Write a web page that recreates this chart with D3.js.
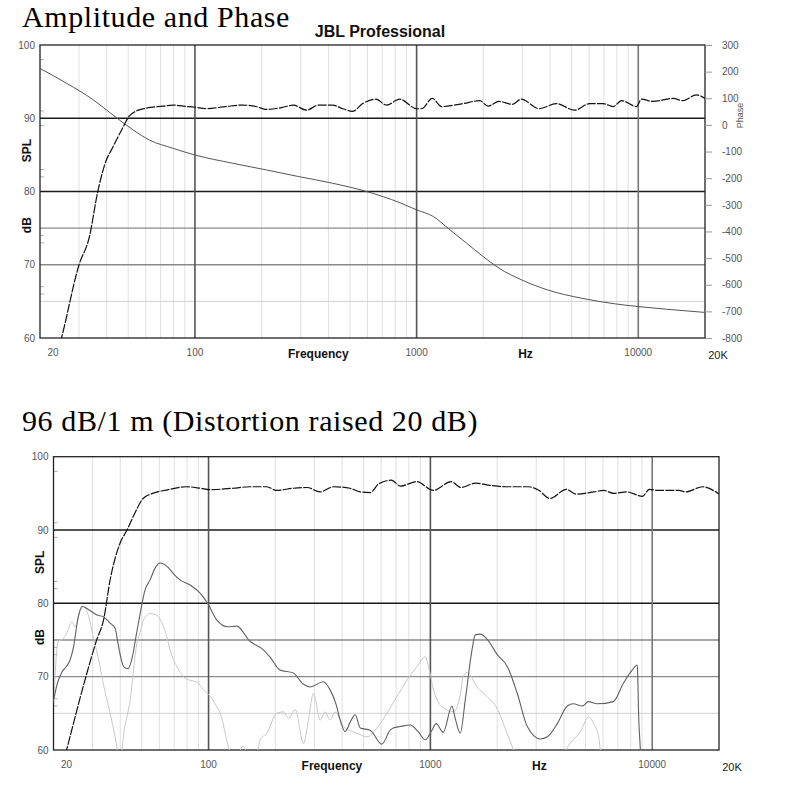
<!DOCTYPE html>
<html lang="en">
<head>
<meta charset="UTF-8">
<title>JBL Professional - Amplitude and Phase</title>
<script src="https://d3js.org/d3.v7.min.js"></script>
<style>
    body { margin: 0; background: #fff; }
    svg text { font-family: "Liberation Sans", Arial, sans-serif; }
    .title { font-family: "Liberation Serif", serif; font-size: 30px; letter-spacing: 0.6px; fill: #000; }
    .brand { font-size: 16px; font-weight: bold; fill: #111; }
    .tick-label { font-size: 10px; fill: #555; }
    .axis-title { font-size: 12px; font-weight: bold; fill: #111; }
</style>
</head>
<body>
<svg width="796" height="798"></svg>
<script>
    // frequency axis
    const freqTicks = [20, 100, 1000, 10000, 20000];
    const freqTickLabels = ["20", "100", "1000", "10000", "20K"];
    const minorFreqs = [30, 40, 50, 60, 70, 80, 90,
        200, 300, 400, 500, 600, 700, 800, 900,
        2000, 3000, 4000, 5000, 6000, 7000, 8000, 9000];
    const decadeFreqs = [100, 1000, 10000];

    // dB axis
    const dbTicks = [100, 90, 80, 70, 60];
    const dbMinorTicks = [98, 91, 89, 83, 82, 74, 73, 67, 66];
    const darkGrid = [90, 80];
    const midGrid = [75, 70];
    const lightGrid = [65];

    // phase axis
    const phaseTicks = [300, 200, 100, 0, -100, -200, -300, -400, -500, -600, -700, -800];

    // [Hz, dB] - amplitude response (top chart)
    const amplitude = [
        [24, 58], [25, 60], [30, 70], [33.4, 73.8], [36.4, 79.9], [39.3, 83.8], [42.7, 86.1],
        [46.7, 88.4], [50.9, 90.4], [58.4, 91.3], [71.8, 91.65], [79.8, 91.8], [88.5, 91.65],
        [100, 91.5], [112, 91.3], [138, 91.6], [164, 91.8], [189, 91.6], [210, 91.2], [250, 91.5],
        [278, 91.8], [318, 91.1], [362, 91.8], [418, 91.8], [464, 91.3], [515, 90.95], [571, 92.0],
        [656, 92.6], [731, 91.8], [840, 92.6], [1000, 91.3], [1054, 91.3], [1176, 92.7], [1300, 91.6],
        [1620, 92.0], [1925, 92.4], [2100, 91.65], [2355, 92.3], [2708, 91.9], [2960, 92.6],
        [3585, 91.3], [4260, 92.0], [5160, 91.1], [6030, 92.0], [6940, 92.0], [7710, 91.6],
        [8410, 92.4], [9820, 91.6], [10340, 92.6], [11660, 92.3], [14400, 92.7], [15900, 92.4],
        [18280, 93.2], [20000, 92.7]
    ];

    // [Hz, degrees] - phase response (top chart)
    const phase = [
        [20, 212], [26.4, 156], [34.8, 94], [42.7, 37], [52.6, -19], [62.4, -57], [79.8, -88],
        [100, -113], [148, -144], [210, -169], [294, -194], [418, -219], [594, -250], [840, -292],
        [1000, -319], [1190, -344], [1414, -394], [1680, -444], [1995, -494], [2355, -538],
        [2980, -582], [3880, -619], [5570, -651], [7890, -672], [10000, -682], [13400, -692],
        [20000, -704]
    ];

    // [Hz, dB] - 96 dB/1 m fundamental (bottom chart)
    const fundamental = [
        [22, 58], [22.9, 60], [27.7, 69.5], [31.3, 75], [33.6, 77.7], [36.0, 83.2], [39.9, 88.2],
        [42.9, 90.0], [45.7, 91.8], [50.7, 94.3], [56, 95.0], [64.5, 95.45], [79.5, 95.9],
        [91.8, 95.7], [101.6, 95.5], [129, 95.7], [154, 95.9], [183, 95.9], [202, 95.4], [241, 95.7],
        [278, 95.8], [318, 95.2], [366, 95.9], [434, 95.7], [482, 95.2], [535, 95.1], [585, 96.3],
        [667, 96.8], [733, 96.0], [869, 96.6], [1030, 95.4], [1240, 96.6], [1370, 95.8], [1600, 96.4],
        [1860, 96.1], [2200, 95.9], [2770, 95.9], [3070, 95.45], [3460, 94.3], [4100, 95.55],
        [4540, 94.9], [5470, 95.2], [6050, 95.4], [6700, 95.0], [7650, 95.2], [9060, 94.6],
        [9690, 95.55], [10700, 95.4], [13200, 95.4], [14100, 95.2], [16900, 95.9], [20000, 94.9]
    ];

    // [Hz, dB] - 2nd harmonic, raised 20 dB
    const harmonic2 = [
        [20.1, 67.0], [20.7, 68.8], [21.8, 70.6], [23.0, 71.5], [23.7, 72.2], [24.6, 74.0],
        [25.8, 78.0], [26.9, 79.6], [28.3, 79.3], [31.4, 78.4], [33.4, 78.2], [36.0, 77.3],
        [37.9, 76.6], [39.1, 74.5], [40.3, 72.5], [41.6, 71.3], [43.4, 71.1], [45.2, 72.5],
        [47.1, 75.5], [49.1, 78.5], [51.7, 81.8], [54.5, 83.2], [57.4, 84.8], [60.4, 85.5],
        [62.4, 85.4], [65.7, 84.9], [69.2, 84.1], [74.4, 83.2], [82.6, 82.5], [91.6, 81.4],
        [99.5, 79.9], [109, 77.7], [122, 76.8], [134, 76.9], [154, 74.8], [166, 74.2], [171, 74.0],
        [189, 72.7], [210, 70.9], [241, 70.5], [267, 69.0], [287, 68.6], [329, 69.3], [353, 68.2],
        [376, 66.2], [392, 64.1], [413, 62.5], [435, 63.8], [458, 64.8], [483, 63.0], [535, 62.7],
        [604, 60.8], [659, 62.7], [680, 63.0], [731, 63.2], [811, 63.4], [881, 62.5], [948, 61.4],
        [1016, 62.7], [1062, 63.6], [1143, 62.4], [1251, 66.0], [1294, 64.3], [1363, 62.3],
        [1436, 66.8], [1539, 73.6], [1593, 75.7], [1678, 75.8], [1804, 75.1], [2002, 73.0],
        [2222, 71.4], [2465, 67.7], [2735, 63.2], [3130, 61.5], [3366, 61.8], [3734, 63.6],
        [4143, 66.0], [4407, 66.3], [4841, 66.0], [5152, 66.6], [5657, 66.3], [6680, 66.6],
        [7412, 69.1], [8222, 71.1], [8544, 71.6], [8580, 71.1], [8690, 64.5], [8842, 60.0], [8900, 58]
    ];

    // [Hz, dB] - 3rd harmonic, raised 20 dB (null = gap)
    const harmonic3 = [
        [20.1, 66.5], [20.5, 72.0], [21.0, 74.8], [22.1, 75.2], [23.3, 76.4], [24.2, 77.5],
        [25.0, 76.8], [26.3, 78.9], [27.5, 79.5], [28.6, 78.5], [30.2, 75.5], [32.4, 71.4],
        [33.5, 69.1], [36.0, 65.0], [38.6, 60.5], [39.1, 59.5], [40.3, 59.5], [41.6, 62.5],
        [44.3, 66.8], [47.5, 74.5], [49.1, 76.0], [50.8, 77.7], [54.5, 78.6], [58.4, 78.4],
        [62.6, 76.8], [64.8, 75.5], [67.1, 73.6], [71.9, 71.4], [77.0, 70.0], [82.6, 69.5],
        [88.5, 69.3], [94.8, 68.2], [102, 67.3], [109, 65.9], [113, 65.0], [123, 60.4], [128, 59],
        [133, 59], [143, 60.5], [154, 59], [165, 59.5], [171, 61.4], [183, 62.3], [203, 65.0],
        [218, 65.2], [229, 64.3], [246, 65.5], [268, 60.9], [282, 64.1], [297, 67.7], [319, 64.1],
        [335, 65.2], [353, 64.1], [372, 65.2], [406, 63.2], [466, 62.3], [517, 61.8], [574, 63.0],
        [637, 65.0], [706, 67.3], [784, 69.5], [870, 71.4], [948, 72.7], [981, 71.4], [1033, 68.2],
        [1127, 65.9], [1272, 65.2], [1363, 67.5], [1406, 70.0], [1466, 70.6], [1622, 68.6],
        [1799, 67.3], [1996, 65.7], [2214, 62.3], [2371, 60.0], [2440, 59],
        [3000, null],
        [3932, 59], [4130, 60.3], [4742, 62.5], [5168, 64.5], [5444, 63.6], [5734, 61.8],
        [5838, 60.0], [5895, 59]
    ];

    const svg = d3.select("svg");

    svg.append("text").attr("class", "title").attr("x", 22).attr("y", 27).text("Amplitude and Phase");
    svg.append("text").attr("class", "brand").attr("x", 380).attr("y", 37)
        .attr("text-anchor", "middle").text("JBL Professional");
    svg.append("text").attr("class", "title").attr("x", 22).attr("y", 431)
        .text("96 dB/1 m (Distortion raised 20 dB)");

    function drawChart(id, box, splX) {
        const g = svg.append("g");
        const x = d3.scaleLog().domain([20, 20000]).range([box.left, box.right]);
        const y = d3.scaleLinear().domain([60, 100]).range([box.bottom, box.top]);

        g.append("clipPath").attr("id", id)
            .append("rect")
            .attr("x", box.left).attr("y", box.top)
            .attr("width", box.right - box.left).attr("height", box.bottom - box.top);

        // vertical grid
        g.selectAll(".vminor").data(minorFreqs).enter().append("line")
            .attr("x1", d => x(d)).attr("x2", d => x(d))
            .attr("y1", box.top).attr("y2", box.bottom)
            .attr("stroke", "#e0e0e0").attr("stroke-width", 1);

        // horizontal grid
        const hgrid = (vals, color, w) => g.selectAll(null).data(vals).enter().append("line")
            .attr("x1", box.left).attr("x2", box.right)
            .attr("y1", d => y(d)).attr("y2", d => y(d))
            .attr("stroke", color).attr("stroke-width", w);
        hgrid(lightGrid, "#d0d0d0", 1);
        hgrid(midGrid, "#8a8a8a", 1.3);
        hgrid(darkGrid, "#1a1a1a", 1.5);

        g.selectAll(".vmajor").data(decadeFreqs).enter().append("line")
            .attr("x1", d => x(d)).attr("x2", d => x(d))
            .attr("y1", box.top).attr("y2", box.bottom)
            .attr("stroke", d => d === 10000 ? "#777" : "#555").attr("stroke-width", 1.6);

        // minor ticks on the left edge
        g.selectAll(".ytick").data(dbMinorTicks).enter().append("line")
            .attr("x1", box.left).attr("x2", box.left + 4)
            .attr("y1", d => y(d)).attr("y2", d => y(d))
            .attr("stroke", "#999").attr("stroke-width", 0.8);

        g.append("rect")
            .attr("x", box.left).attr("y", box.top)
            .attr("width", box.right - box.left).attr("height", box.bottom - box.top)
            .attr("fill", "none").attr("stroke", "#222").attr("stroke-width", 1.3);

        // dB labels
        g.selectAll(".ylab").data(dbTicks).enter().append("text")
            .attr("class", "tick-label")
            .attr("x", box.left - 5).attr("y", d => y(d) + 3.5)
            .attr("text-anchor", "end").text(d => d);

        // frequency labels
        g.selectAll(".xlab").data(freqTicks).enter().append("text")
            .attr("class", "tick-label")
            .attr("x", (d, i) => x(d) + (i === 0 || i === 4 ? 13 : 0))
            .attr("y", (d, i) => box.bottom + (i === 4 ? 21 : 18))
            .attr("text-anchor", "middle")
            .style("font-size", (d, i) => i === 4 ? "11px" : "10px")
            .style("fill", (d, i) => i === 4 ? "#222" : "#555")
            .text((d, i) => freqTickLabels[i]);

        g.append("text").attr("class", "axis-title")
            .attr("x", x(360)).attr("y", box.bottom + 20)
            .attr("text-anchor", "middle").text("Frequency");
        g.append("text").attr("class", "axis-title")
            .attr("x", x(3100)).attr("y", box.bottom + 20)
            .attr("text-anchor", "middle").text("Hz");

        g.append("text").attr("class", "axis-title")
            .attr("transform", `translate(${splX},${y(85.6)}) rotate(-90)`)
            .attr("text-anchor", "middle").text("SPL");
        g.append("text").attr("class", "axis-title")
            .attr("transform", `translate(${splX},${y(75.4)}) rotate(-90)`)
            .attr("text-anchor", "middle").text("dB");

        return {g, x, y};
    }

    function curve(g, id, data, x, y, color, width, dash) {
        const line = d3.line()
            .defined(d => d[1] != null)
            .x(d => x(d[0]))
            .y(d => y(d[1]))
            .curve(d3.curveMonotoneX);
        g.append("path")
            .datum(data)
            .attr("clip-path", `url(#${id})`)
            .attr("d", line)
            .attr("fill", "none")
            .attr("stroke", color)
            .attr("stroke-width", width)
            .attr("stroke-dasharray", dash || null);
    }

    // top chart
    const topChart = drawChart("clipTop", {left: 40, right: 705, top: 45, bottom: 338}, 31);
    const yPhase = d3.scaleLinear().domain([-800, 300]).range([338, 45]);

    const phaseAxis = topChart.g.append("g")
        .attr("transform", "translate(705,0)")
        .call(d3.axisRight(yPhase).tickValues(phaseTicks).tickSize(7).tickPadding(10)
            .tickFormat(d => String(d)));
    phaseAxis.select(".domain").remove();
    phaseAxis.selectAll("line").attr("stroke", "#999");
    phaseAxis.selectAll("text")
        .style("font-family", "'Liberation Sans', Arial, sans-serif")
        .style("font-size", "10px").attr("fill", "#555");

    topChart.g.append("text")
        .attr("transform", `translate(743,${yPhase(35)}) rotate(-90)`)
        .attr("text-anchor", "middle")
        .style("font-size", "9px").style("fill", "#555")
        .text("Phase");

    curve(topChart.g, "clipTop", phase, topChart.x, yPhase, "#555", 1);
    curve(topChart.g, "clipTop", amplitude, topChart.x, topChart.y, "#111", 1.2, "9,1.3");

    // bottom chart
    const botChart = drawChart("clipBot", {left: 53.5, right: 719, top: 456.7, bottom: 750}, 44);
    curve(botChart.g, "clipBot", harmonic3, botChart.x, botChart.y, "#c8c8c8", 1);
    curve(botChart.g, "clipBot", harmonic2, botChart.x, botChart.y, "#606060", 1.1);
    curve(botChart.g, "clipBot", fundamental, botChart.x, botChart.y, "#111", 1.2, "9,1.3");
</script>
</body>
</html>
